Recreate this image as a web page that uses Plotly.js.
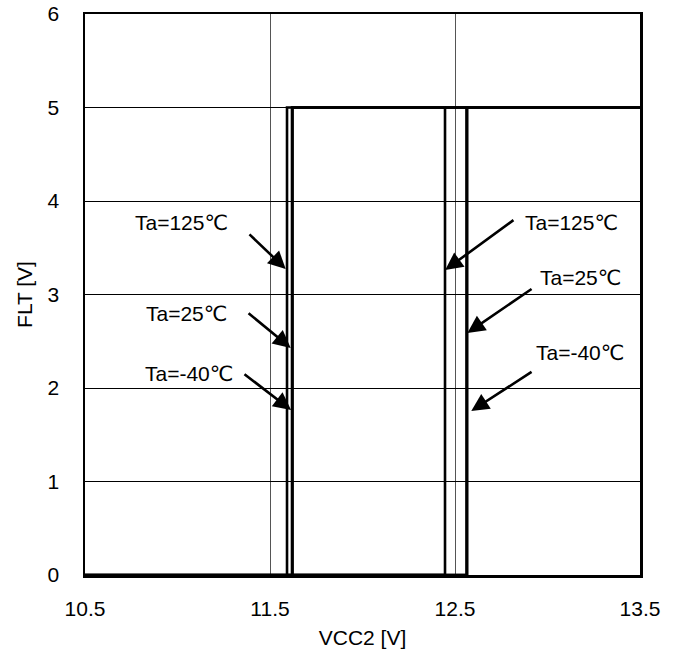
<!DOCTYPE html>
<html>
<head>
<meta charset="utf-8">
<script src="https://cdn.plot.ly/plotly-3.0.1.min.js"></script>
<style>html,body{margin:0;padding:0;background:#fff;}#chart{width:680px;height:657px;}</style>
</head>
<body>
<div id="chart"></div>
<script>
// Data
const temps = ["Ta=125℃", "Ta=25℃", "Ta=-40℃"];
const vccOn = [12.446, 12.562, 12.566];   // rising threshold (FLT 0 -> 5)
const vccOff = [11.592, 11.619, 11.622];  // falling threshold (FLT 5 -> 0)
const fltLow = 0;
const fltHigh = 5;
const vccMin = 10.5, vccMax = 13.5;
const xTicks = [10.5, 11.5, 12.5, 13.5];
const xTickText = ["10.5", "11.5", "12.5", "13.5"];
const yTicks = [0, 1, 2, 3, 4, 5, 6];

// Annotation placements (data coords)
const leftLabelX = [11.02, 11.046, 11.062];
const leftLabelY = [3.775, 2.802, 2.16];
const leftTipX = [11.585, 11.612, 11.614];
const leftTipY = [3.273, 2.428, 1.765];
const leftTailX = [11.381, 11.376, 11.354];
const leftTailY = [3.658, 2.813, 2.16];

const rightLabelX = [13.127, 13.176, 13.176];
const rightLabelY = [3.775, 3.187, 2.385];
const rightTipX = [12.447, 12.567, 12.588];
const rightTipY = [3.262, 2.588, 1.754];
const rightTailX = [12.824, 12.922, 12.922];
const rightTailY = [3.807, 3.07, 2.182];

const traces = temps.map((t, i) => ({
  type: 'scatter', mode: 'lines', name: t,
  x: [vccMin, vccOn[i], vccOn[i], vccMax, vccOff[i], vccOff[i], vccMin],
  y: [fltLow, fltLow, fltHigh, fltHigh, fltHigh, fltLow, fltLow],
  line: {color: '#000', width: 2.6},
  hoverinfo: 'skip'
}));

const font = {family: '"Liberation Sans", Arial, "DejaVu Sans", sans-serif', size: 21, color: '#000'};
const annotations = [];
const arrowStyle = {showarrow: true, arrowhead: 2, arrowsize: 1.35, arrowwidth: 2.6, arrowcolor: '#000', standoff: 0, startstandoff: 0};
temps.forEach((t, i) => {
  annotations.push({x: leftLabelX[i], y: leftLabelY[i], xref: 'x', yref: 'y', text: t, showarrow: false, font: font});
  annotations.push(Object.assign({x: leftTipX[i], y: leftTipY[i], ax: leftTailX[i], ay: leftTailY[i], xref: 'x', yref: 'y', axref: 'x', ayref: 'y', text: ''}, arrowStyle));
  annotations.push({x: rightLabelX[i], y: rightLabelY[i], xref: 'x', yref: 'y', text: t, showarrow: false, font: font});
  annotations.push(Object.assign({x: rightTipX[i], y: rightTipY[i], ax: rightTailX[i], ay: rightTailY[i], xref: 'x', yref: 'y', axref: 'x', ayref: 'y', text: ''}, arrowStyle));
});

const layout = {
  width: 680, height: 657,
  margin: {l: 85, r: 40, t: 14, b: 82},
  paper_bgcolor: '#fff', plot_bgcolor: '#fff',
  showlegend: false,
  font: font,
  xaxis: {
    range: [vccMin, vccMax], tickvals: xTicks, ticktext: xTickText,
    showgrid: true, gridcolor: '#555', gridwidth: 1,
    zeroline: false, showline: true, mirror: true, linecolor: '#000', linewidth: 2.5,
    ticks: '', ticklabelstandoff: 13, tickfont: font,
    title: {text: 'VCC2 [V]', font: font, standoff: 12}
  },
  yaxis: {
    range: [0, 6], tickvals: yTicks,
    showgrid: true, gridcolor: '#000', gridwidth: 1,
    zeroline: false, showline: true, mirror: true, linecolor: '#000', linewidth: 2.5,
    ticks: '', ticklabelstandoff: 19, tickfont: font,
    title: {text: 'FLT [V]', font: font, standoff: 10}
  },
  annotations: annotations
};

Plotly.newPlot('chart', traces, layout, {displayModeBar: false, staticPlot: true});
</script>
</body>
</html>
